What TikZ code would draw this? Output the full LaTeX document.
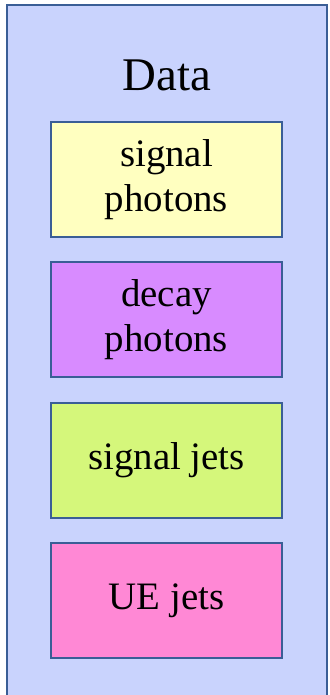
\documentclass[tikz,border=0pt]{standalone}
\usepackage{fontspec}
\setmainfont{Liberation Serif}
\usetikzlibrary{positioning}
\definecolor{frameblue}{HTML}{3A5E96}
\definecolor{databg}{HTML}{C9D3FD}
\definecolor{sigphfill}{HTML}{FFFFC0}
\definecolor{decphfill}{HTML}{D88BFF}
\definecolor{sigjetfill}{HTML}{D5F77B}
\definecolor{uejetfill}{HTML}{FF88D5}
\tikzset{
  catbox/.style={draw=frameblue,line width=2bp,minimum width=231bp,minimum height=115bp,
    align=center,inner sep=0pt,font=\fontsize{39}{45}\selectfont}
}

\begin{document}
\begin{tikzpicture}[x=1bp,y=-1bp]
		\useasboundingbox (0,0) rectangle (329,695);
		\clip (0,0) rectangle (329,695);
		\draw[frameblue,fill=databg,line width=1.8bp] (7,5) rectangle (327,720);
		\node[anchor=base,font=\fontsize{47}{52}\selectfont] (data) at (167,91) {Data};
		\node[catbox,fill=sigphfill] (sigph) at (166.5,179.5) {signal\\photons};
		\node[catbox,fill=decphfill] (decph) at (166.5,319.5) {decay\\photons};
		\node[catbox,fill=sigjetfill] (sigjet) at (166.5,460.5) {signal jets};
		\node[catbox,fill=uejetfill] (uejet) at (166.5,600.5) {UE jets};
	   \end{tikzpicture}
\end{document}
